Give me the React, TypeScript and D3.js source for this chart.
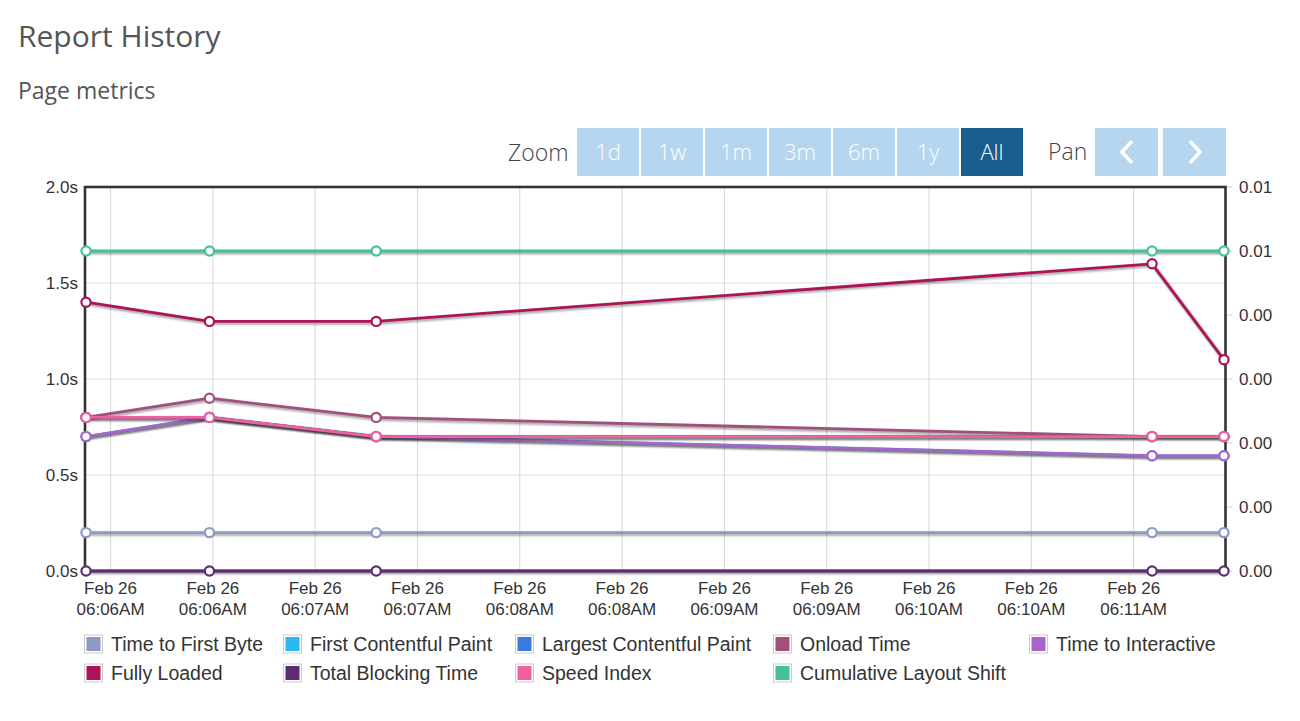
import React from "react";
import * as d3 from "d3";

const times = [
  "2024-02-26T06:05:52.8Z",
  "2024-02-26T06:06:29.0Z",
  "2024-02-26T06:07:17.9Z",
  "2024-02-26T06:11:05.4Z",
  "2024-02-26T06:11:26.5Z",
];

const seriesNames = [
  "Time to First Byte",
  "First Contentful Paint",
  "Largest Contentful Paint",
  "Onload Time",
  "Time to Interactive",
  "Fully Loaded",
  "Total Blocking Time",
  "Speed Index",
  "Cumulative Layout Shift",
];

const seriesColors = [
  "#8c9ac6",
  "#2bb7ef",
  "#3b7ade",
  "#a24f7c",
  "#a864c8",
  "#ad1457",
  "#5e2c72",
  "#f0609e",
  "#45c09a",
];

const ttfb = [0.2, 0.2, 0.2, 0.2, 0.2];
const fcp = [0.7, 0.8, 0.7, 0.6, 0.6];
const lcp = [0.8, 0.8, 0.7, 0.7, 0.7];
const onload = [0.8, 0.9, 0.8, 0.7, 0.7];
const tti = [0.7, 0.8, 0.7, 0.6, 0.6];
const fullyLoaded = [1.4, 1.3, 1.3, 1.6, 1.1];
const tbt = [0, 0, 0, 0, 0];
const speedIndex = [0.8, 0.8, 0.7, 0.7, 0.7];
const cls = [0.005, 0.005, 0.005, 0.005, 0.005];

const leftTicks = [0, 0.5, 1.0, 1.5, 2.0];
const rightTicks = [0, 0.001, 0.002, 0.003, 0.004, 0.005, 0.006];
const zoomLabels = ["1d", "1w", "1m", "3m", "6m", "1y", "All"];

const legendSlots: [number, number][] = [
  [84, 0], [283, 0], [515, 0], [773, 0], [1029, 0],
  [84, 1], [283, 1], [515, 1], [773, 1],
];
const legendOrder = [0, 1, 2, 3, 4, 5, 6, 7, 8];

export default function App() {
  const dates = times.map((t) => new Date(t));
  const values = [ttfb, fcp, lcp, onload, tti, fullyLoaded, tbt, speedIndex, cls];
  const onRight = [false, false, false, false, false, false, false, false, true];

  const plotL = 85, plotR = 1225.5, plotT = 187, plotB = 571;
  const x = d3.scaleUtc().domain([dates[0], dates[dates.length - 1]]).range([86, 1224]);
  const y = d3.scaleLinear().domain([0, 2]).range([plotB, plotT]);
  const y2 = d3.scaleLinear().domain([0, 0.006]).range([plotB, plotT]);
  const xTicks = x.ticks(d3.utcSecond.every(30) as any);
  const fmtDay = d3.utcFormat("%b %-d");
  const fmtTime = d3.utcFormat("%I:%M%p");
  const axisFont = "'Liberation Sans', Arial, Helvetica, sans-serif";
  const titleFont = "'Open Sans', 'Noto Sans', sans-serif";

  const line = (ys: d3.ScaleLinear<number, number>) =>
    d3.line<[Date, number]>().x((d) => x(d[0])).y((d) => ys(d[1]));

  return (
    <svg width={1300} height={721} style={{ position: "absolute", left: 0, top: 0, background: "#fff" }}>
      <text x={18} y={47} fontFamily={titleFont} fontSize={30} fill="#555">Report History</text>
      <text x={18} y={99} fontFamily={titleFont} fontSize={23} fill="#555">Page metrics</text>

      {/* range selector */}
      <text x={508} y={161} fontFamily={titleFont} fontSize={23} fill="#444" fontWeight={300}>Zoom</text>
      {zoomLabels.map((lab, i) => {
        const bx = 577 + i * 64;
        const active = lab === "All";
        return (
          <g key={lab}>
            <rect x={bx} y={128} width={62} height={48} fill={active ? "#1b5c8e" : "#b6d6f0"} />
            <text x={bx + 31} y={160} textAnchor="middle" fontFamily={titleFont} fontSize={22} fill="#fff" fontWeight={300}>{lab}</text>
          </g>
        );
      })}
      <text x={1048} y={160} fontFamily={titleFont} fontSize={23} fill="#444" fontWeight={300}>Pan</text>
      <rect x={1095} y={128} width={63} height={48} fill="#b6d6f0" />
      <rect x={1163} y={128} width={63} height={48} fill="#b6d6f0" />
      <polyline points="1132,141 1122,152 1132,163" fill="none" stroke="#fff" strokeWidth={3.5} />
      <polyline points="1190,141 1200,152 1190,163" fill="none" stroke="#fff" strokeWidth={3.5} />

      {/* grid */}
      {leftTicks.map((t) => (
        <line key={"h" + t} x1={plotL} x2={plotR} y1={y(t)} y2={y(t)} stroke="#dcdcdc" strokeWidth={1} />
      ))}
      {xTicks.map((t, i) => (
        <line key={"v" + i} x1={x(t)} x2={x(t)} y1={plotT} y2={plotB} stroke="#d6d6d6" strokeWidth={1} />
      ))}

      {/* plot border (under series) */}
      <rect x={plotL} y={plotT} width={plotR - plotL} height={plotB - plotT} fill="none" stroke="#333" strokeWidth={2.6} />

      {/* left axis labels */}
      {leftTicks.map((t) => (
        <text key={"l" + t} x={78} y={y(t) + 6} textAnchor="end" fontFamily={axisFont} fontSize={17} fill="#333">
          {t.toFixed(1) + "s"}
        </text>
      ))}
      {/* right axis */}
      {rightTicks.map((t, i) => (
        <g key={"r" + i}>
          <line x1={plotR + 1.5} x2={plotR + 7} y1={y2(t)} y2={y2(t)} stroke="#ccc" strokeWidth={1} />
          <text x={1239} y={y2(t) + 6} fontFamily={axisFont} fontSize={17} fill="#333">
            {d3.format(".2f")(t)}
          </text>
        </g>
      ))}
      {/* x axis labels */}
      {xTicks.map((t, i) => (
        <g key={"x" + i}>
          <text x={x(t)} y={594} textAnchor="middle" fontFamily={axisFont} fontSize={17} fill="#333">{fmtDay(t)}</text>
          <text x={x(t)} y={615} textAnchor="middle" fontFamily={axisFont} fontSize={17} fill="#333">{fmtTime(t)}</text>
        </g>
      ))}

      {/* series */}
      {values.map((vals, si) => {
        const ys = onRight[si] ? y2 : y;
        const pts = vals.map((v, i) => [dates[i], v] as [Date, number]);
        const d = line(ys)(pts) || "";
        const c = seriesColors[si];
        return (
          <g key={"s" + si}>
            <g transform="translate(1,1.5)" fill="none">
              <path d={d} stroke="#000" strokeOpacity={0.05} strokeWidth={7} />
              <path d={d} stroke="#000" strokeOpacity={0.1} strokeWidth={5} />
              <path d={d} stroke="#000" strokeOpacity={0.15} strokeWidth={3} />
            </g>
            <path d={d} fill="none" stroke={c} strokeWidth={2.8} strokeLinejoin="round" />
            {pts.map((p, i) => (
              <circle key={i} cx={x(p[0])} cy={ys(p[1])} r={4.6} fill="#fff" stroke={c} strokeWidth={2.2} />
            ))}
          </g>
        );
      })}

      {/* legend */}
      {legendOrder.map((si, k) => {
        const [lx, row] = legendSlots[k];
        const cy = 644 + row * 29;
        return (
          <g key={"lg" + si}>
            <rect x={lx + 0.5} y={cy - 9} width={18} height={18} fill="#fff" stroke="#ccc" strokeWidth={1} />
            <rect x={lx + 2.5} y={cy - 7} width={14} height={14} fill={seriesColors[si]} />
            <text x={lx + 27} y={cy + 7} fontFamily={axisFont} fontSize={19.5} fill="#333">{seriesNames[si]}</text>
          </g>
        );
      })}
    </svg>
  );
}
